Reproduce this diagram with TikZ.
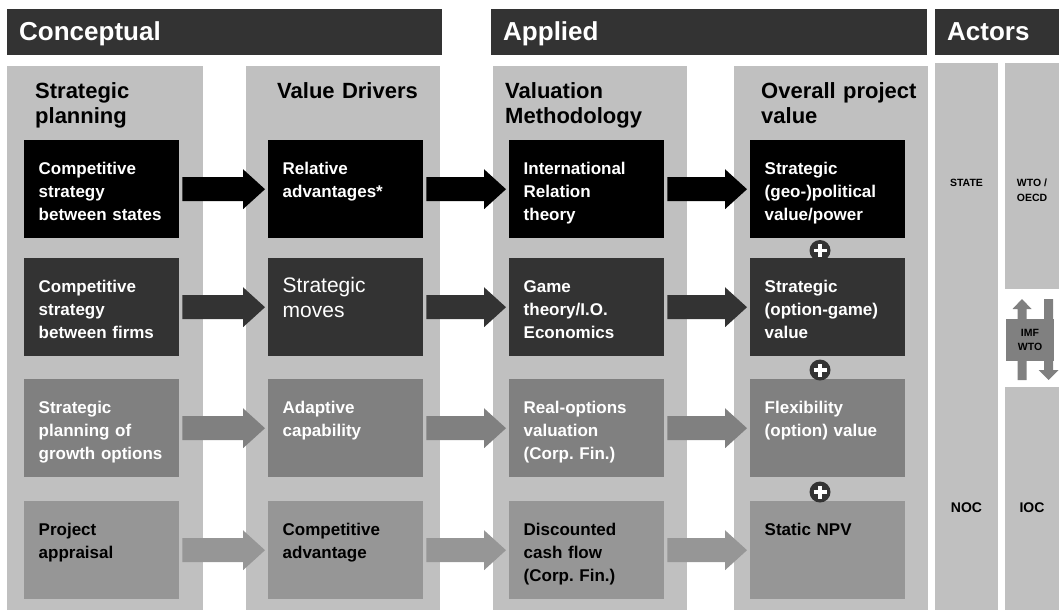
\documentclass[tikz,border=0pt]{standalone}
\usepackage{fontspec}
\setmainfont{Liberation Sans}
\usepackage{xcolor}
\usepackage{tikz}
\usetikzlibrary{positioning}
\definecolor{darkbar}{HTML}{333333}
\definecolor{panelgray}{HTML}{C0C0C0}
\definecolor{midgray}{HTML}{808080}
\definecolor{lowgray}{HTML}{969696}
\tikzset{every node/.style={font=\bfseries}}
\frenchspacing

\begin{document}
\begin{tikzpicture}[
x=1pt, y=-1pt,
header/.style={
fill=darkbar,
text=white,
anchor=north west,
align=left,
minimum height=46pt,
inner xsep=12pt,
text height=21pt,
text depth=5pt,
font=\fontsize{26}{30}\selectfont\bfseries
},
panel/.style={fill=panelgray, anchor=north west, inner sep=0pt},
title/.style={
anchor=north west,
align=left,
text width=175pt,
inner sep=0pt,
text height=16pt,
font=\fontsize{22}{25}\selectfont\bfseries
},
box/.style={
anchor=north west,
align=left,
text width=126pt,
inner xsep=14.5pt,
inner ysep=10pt,
text height=24pt,
text depth=54pt,
font=\fontsize{17}{23}\selectfont\bfseries
},
actor/.style={align=center, inner sep=0pt, font=\fontsize{10.5}{14.5}\selectfont\bfseries},
plus/.style={
circle,
fill=darkbar,
minimum size=21pt,
inner sep=0pt,
path picture={
\draw[white, line width=3.2pt]
([xshift=-6.5pt]path picture bounding box.center) -- ([xshift=6.5pt]path picture bounding box.center)
([yshift=-6.5pt]path picture bounding box.center) -- ([yshift=6.5pt]path picture bounding box.center);
}
}
]
\useasboundingbox (0,0) rectangle (1059,611);

% headers
\node[header, text width=411pt] (concept) at (7,9) {Conceptual};
\node[header, text width=412pt] (applied) at (491,9) {Applied};
\node[header, text width=100pt] (actors) at (935,9) {Actors};

% column panels
\node[panel, minimum width=196pt, minimum height=544pt] (planpanel) at (7,66) {};
\node[panel, minimum width=194pt, minimum height=544pt] (drvpanel) at (246,66) {};
\node[panel, minimum width=194pt, minimum height=544pt] (methpanel) at (493,66) {};
\node[panel, minimum width=194pt, minimum height=544pt] (valpanel) at (734,66) {};
\node[panel, minimum width=63pt, minimum height=547pt] (statepanel) at (935,63) {};
\node[panel, minimum width=54pt, minimum height=226pt] (wtopanel) at (1005,63) {};
\node[panel, minimum width=54pt, minimum height=223pt] (iocpanel) at (1005,387) {};

\node[title] (plantitle) at (35,82) {Strategic\\planning};
\node[title] (drvtitle) at (277,82) {Value Drivers};
\node[title] (methtitle) at (505,82) {Valuation\\Methodology};
\node[title] (valtitle) at (761,82) {Overall project\\value};

% row 1
\node[box, fill=black, text=white] (plan1) at (24,140) {Competitive\\strategy\\between states};
\node[box, fill=black, text=white] (drv1) at (268,140) {Relative\\advantages*};
\node[box, fill=black, text=white] (meth1) at (509,140) {International\\Relation\\theory};
\node[box, fill=black, text=white] (val1) at (750,140) {Strategic\\(geo-)political\\value/power};

% row 2
\node[box, fill=darkbar, text=white] (plan2) at (24,258) {Competitive\\strategy\\between firms};
\node[box, fill=darkbar, text=white, font=\fontsize{21}{25}\selectfont] (drv2) at (268,258) {Strategic\\moves};
\node[box, fill=darkbar, text=white] (meth2) at (509,258) {Game\\theory/I.O.\\Economics};
\node[box, fill=darkbar, text=white] (val2) at (750,258) {Strategic\\(option-game)\\value};

% row 3
\node[box, fill=midgray, text=white] (plan3) at (24,379) {Strategic\\planning of\\growth options};
\node[box, fill=midgray, text=white] (drv3) at (268,379) {Adaptive\\capability};
\node[box, fill=midgray, text=white] (meth3) at (509,379) {Real-options\\valuation\\(Corp. Fin.)};
\node[box, fill=midgray, text=white] (val3) at (750,379) {Flexibility\\(option) value};

% row 4
\node[box, fill=lowgray] (plan4) at (24,501) {Project\\appraisal};
\node[box, fill=lowgray] (drv4) at (268,501) {Competitive\\advantage};
\node[box, fill=lowgray] (meth4) at (509,501) {Discounted\\cash flow\\(Corp. Fin.)};
\node[box, fill=lowgray] (val4) at (750,501) {Static NPV};

% block arrows
\foreach \src/\dst/\tone in {plan1/drv1/black, drv1/meth1/black, meth1/val1/black,
plan2/drv2/darkbar, drv2/meth2/darkbar, meth2/val2/darkbar,
plan3/drv3/midgray, drv3/meth3/midgray, meth3/val3/midgray,
plan4/drv4/lowgray, drv4/meth4/lowgray, meth4/val4/lowgray}
\fill[\tone] ([shift={(3pt,12pt)}]\src.east) -- ([shift={(-25pt,12pt)}]\dst.west)
-- ([shift={(-25pt,20pt)}]\dst.west) -- ([xshift=-3pt]\dst.west)
-- ([shift={(-25pt,-20pt)}]\dst.west) -- ([shift={(-25pt,-12pt)}]\dst.west)
-- ([shift={(3pt,-12pt)}]\src.east) -- cycle;

\node[plus] (plus1) at (820,250.5) {};
\node[plus] (plus2) at (820,370) {};
\node[plus] (plus3) at (820,492) {};

% actors
\node[actor] (state) at (966.5,183) {STATE};
\node[actor] (wto) at (1032,190) {WTO /\\OECD};
\node[actor, font=\fontsize{14}{16}\selectfont\bfseries] (noc) at (966.5,508) {NOC};
\node[actor, font=\fontsize{14}{16}\selectfont\bfseries] (ioc) at (1032,508) {IOC};

\coordinate (upfoot) at (1022,380);
\coordinate (uptip) at (1022,299);
\coordinate (downtop) at (1048.5,299);
\coordinate (downtip) at (1048.5,380);
\fill[midgray] ([xshift=-4.5pt]upfoot) -- ([shift={(-4.5pt,-10pt)}]uptip) -- ([shift={(-9.5pt,-10pt)}]uptip)
-- (uptip) -- ([shift={(9.5pt,-10pt)}]uptip) -- ([shift={(4.5pt,-10pt)}]uptip) -- ([xshift=4.5pt]upfoot) -- cycle;
\fill[midgray] ([xshift=-4.5pt]downtop) -- ([shift={(-4.5pt,10pt)}]downtip) -- ([shift={(-10pt,10pt)}]downtip)
-- (downtip) -- ([shift={(10pt,10pt)}]downtip) -- ([shift={(4.5pt,10pt)}]downtip) -- ([xshift=4.5pt]downtop) -- cycle;
\node[actor, fill=midgray, minimum width=48pt, minimum height=42pt] (imf) at (1030,340) {IMF\\WTO};

\end{tikzpicture}
\end{document}
